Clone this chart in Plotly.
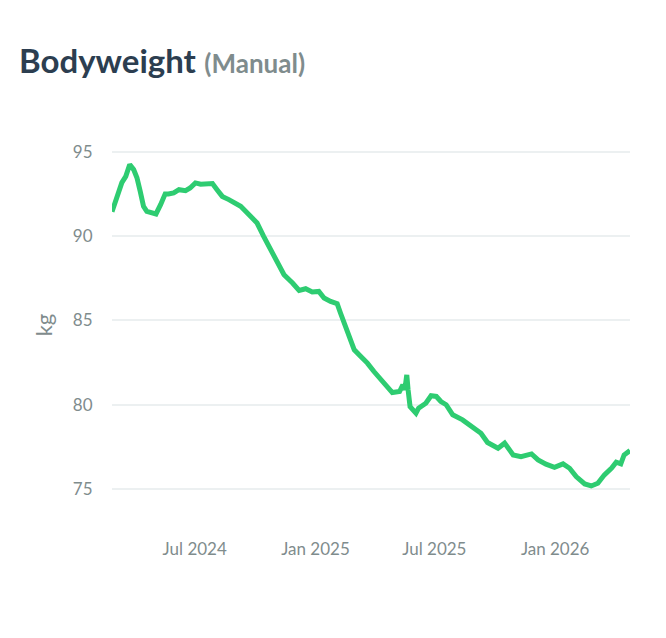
import plotly.graph_objects as go

dates = [
    "2024-02-26", "2024-03-12", "2024-03-18", "2024-03-24", "2024-03-30", "2024-04-04",
    "2024-04-09", "2024-04-14", "2024-04-19", "2024-04-27", "2024-05-03", "2024-05-10",
    "2024-05-17", "2024-05-22", "2024-05-30", "2024-06-07", "2024-06-17", "2024-06-24",
    "2024-07-02", "2024-07-10", "2024-07-17", "2024-07-28", "2024-08-04", "2024-08-12",
    "2024-08-22", "2024-08-31", "2024-09-09", "2024-09-24", "2024-10-04", "2024-10-14",
    "2024-10-25", "2024-11-04", "2024-11-14", "2024-11-27", "2024-12-07", "2024-12-17",
    "2024-12-27", "2025-01-06", "2025-01-14", "2025-01-24", "2025-02-03", "2025-02-08",
    "2025-02-14", "2025-02-21", "2025-03-01", "2025-03-11", "2025-03-21", "2025-03-31",
    "2025-04-11", "2025-04-21", "2025-04-28", "2025-05-09", "2025-05-14", "2025-05-17",
    "2025-05-20", "2025-05-22", "2025-05-25", "2025-06-03", "2025-06-07", "2025-06-18",
    "2025-06-26", "2025-07-04", "2025-07-11", "2025-07-19", "2025-07-29", "2025-08-13",
    "2025-08-29", "2025-09-10", "2025-09-20", "2025-10-06", "2025-10-16", "2025-10-29",
    "2025-11-10", "2025-11-26", "2025-12-06", "2025-12-18", "2025-12-31", "2026-01-13",
    "2026-01-23", "2026-02-02", "2026-02-15", "2026-02-25", "2026-03-07", "2026-03-17",
    "2026-03-28", "2026-04-04", "2026-04-11", "2026-04-16", "2026-04-25",
]

weight_kg = [
    91.45, 93.18, 93.55, 94.25, 93.95, 93.47,
    92.66, 91.77, 91.47, 91.38, 91.32, 91.87,
    92.51, 92.51, 92.57, 92.76, 92.70, 92.86,
    93.16, 93.08, 93.10, 93.12, 92.76, 92.36,
    92.17, 91.97, 91.77, 91.18, 90.78, 89.99,
    89.20, 88.41, 87.71, 87.22, 86.78, 86.88,
    86.69, 86.72, 86.33, 86.13, 85.99, 85.44,
    84.85, 84.15, 83.26, 82.86, 82.47, 81.97,
    81.48, 80.99, 80.72, 80.78, 81.18, 80.89,
    81.77, 80.89, 79.89, 79.50, 79.80, 80.09,
    80.53, 80.49, 80.19, 80.00, 79.40, 79.10,
    78.61, 78.31, 77.76, 77.42, 77.72, 77.02,
    76.92, 77.08, 76.73, 76.47, 76.29, 76.49,
    76.23, 75.74, 75.30, 75.18, 75.34, 75.84,
    76.24, 76.59, 76.49, 77.02, 77.28,
]

y_ticks = [75, 80, 85, 90, 95]
x_ticks = ["2024-07-01", "2025-01-01", "2025-07-01", "2026-01-01"]
x_tick_labels = ["Jul 2024", "Jan 2025", "Jul 2025", "Jan 2026"]

GRAY = "#7f8c8d"
FONT = "Lato"

fig = go.Figure()
fig.add_trace(go.Scatter(
    x=dates, y=weight_kg, mode="lines",
    line=dict(color="#2ecc71", width=5),
    hoverinfo="skip", showlegend=False,
))

fig.update_layout(
    width=666, height=638,
    margin=dict(l=112, r=36, t=130, b=118),
    paper_bgcolor="white", plot_bgcolor="white",
    font=dict(family=FONT, color=GRAY, size=17),
    title=dict(
        text="<b>Bodyweight</b> <b><span style='font-size:26px;color:#7f8c8d'>(Manual)</span></b>",
        font=dict(family=FONT, size=33, color="#2c3e50"),
        xref="container", x=19 / 666, xanchor="left",
        yref="container", y=1 - 61 / 638, yanchor="middle",
    ),
    xaxis=dict(
        type="date",
        range=[dates[0], dates[-1]],
        tickvals=x_ticks, ticktext=x_tick_labels,
        showgrid=False, zeroline=False, showline=False,
        ticks="outside", ticklen=14, tickcolor="rgba(0,0,0,0)",
        tickfont=dict(family=FONT, size=17, color=GRAY),
    ),
    yaxis=dict(
        range=[73.16, 96.3],
        tickvals=y_ticks,
        showgrid=True, gridcolor="#ecf0f1", gridwidth=1.5,
        zeroline=False, showline=False,
        ticks="outside", ticklen=15, tickcolor="rgba(0,0,0,0)",
        tickfont=dict(family=FONT, size=17, color=GRAY),
        title=dict(text="kg", font=dict(family=FONT, size=22, color=GRAY), standoff=14),
    ),
)

fig.write_html("out.html")
